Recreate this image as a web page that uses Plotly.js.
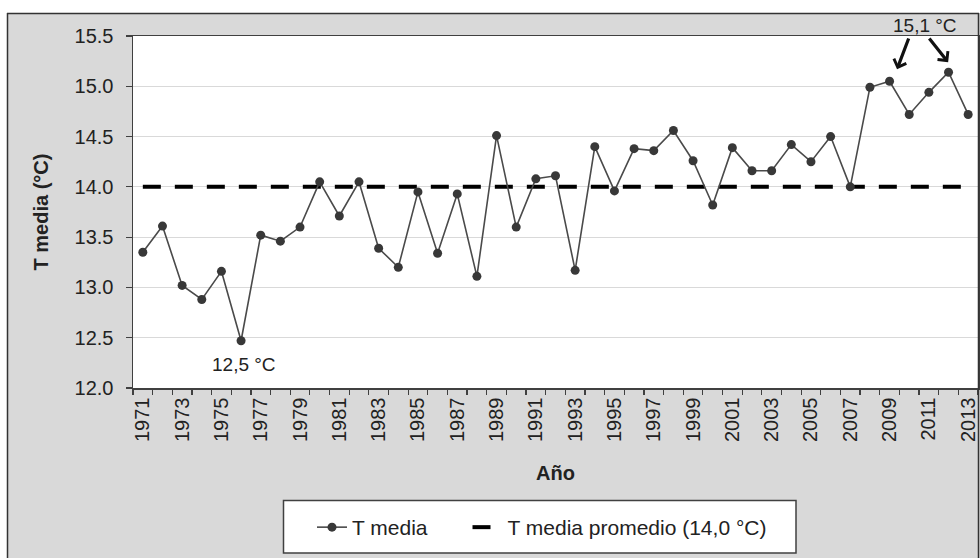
<!DOCTYPE html>
<html>
<head>
<meta charset="utf-8">
<script src="https://cdn.plot.ly/plotly-3.0.1.min.js"></script>
<style>html,body{margin:0;padding:0;background:#fff;}#chart{width:980px;height:558px;}</style>
</head>
<body>
<div id="chart"></div>
<script>
const years = [1971,1972,1973,1974,1975,1976,1977,1978,1979,1980,1981,1982,1983,1984,1985,1986,1987,1988,1989,1990,1991,1992,1993,1994,1995,1996,1997,1998,1999,2000,2001,2002,2003,2004,2005,2006,2007,2008,2009,2010,2011,2012,2013];
const tMedia = [13.35,13.61,13.02,12.88,13.16,12.47,13.52,13.46,13.60,14.05,13.71,14.05,13.39,13.20,13.95,13.34,13.93,13.11,14.51,13.60,14.08,14.11,13.17,14.40,13.96,14.38,14.36,14.56,14.26,13.82,14.39,14.16,14.16,14.42,14.25,14.50,14.00,14.99,15.05,14.72,14.94,15.14,14.72];
const avgYears = [1971, 2013];
const avgValues = [14.0, 14.0];
const tickYears = [1971,1973,1975,1977,1979,1981,1983,1985,1987,1989,1991,1993,1995,1997,1999,2001,2003,2005,2007,2009,2011,2013];
const tickLabels = ['1971','1973','1975','1977','1979','1981','1983','1985','1987','1989','1991','1993','1995','1997','1999','2001','2003','2005','2007','2009','2011','2013'];
const yTicks = [12.0,12.5,13.0,13.5,14.0,14.5,15.0,15.5];
const seriesNames = ['T media', 'T media promedio (14,0 °C)'];
const labelMin = '12,5 °C';
const labelMax = '15,1 °C';

const FONT = 'Liberation Sans, Arial, sans-serif';
const W = 980, H = 558, ML = 133, MR = 2, MT = 36, MB = 170;
const PW = W - ML - MR, PH = H - MT - MB;
const px = p => (p - ML) / PW;
const py = q => (H - MB - q) / PH;
const NBSP = '\u00A0';

const traces = [
  {
    x: avgYears, y: avgValues, name: seriesNames[1], type: 'scatter', mode: 'lines',
    line: {color: '#000000', width: 4, dash: '18px,14px'}, legendrank: 2, hoverinfo: 'skip'
  },
  {
    x: years, y: tMedia, name: seriesNames[0] + NBSP.repeat(6), type: 'scatter', mode: 'lines+markers',
    line: {color: '#4a4a4a', width: 1.6},
    marker: {color: '#383838', size: 9}, legendrank: 1
  }
];

const layout = {
  width: W, height: H,
  margin: {l: ML, r: MR, t: MT, b: MB, pad: 0},
  paper_bgcolor: '#d9d9d9',
  plot_bgcolor: '#ffffff',
  font: {family: FONT, color: '#222222'},
  showlegend: true,
  xaxis: {
    range: [1970.5, 2013.5],
    tickmode: 'array', tickvals: tickYears, ticktext: tickLabels,
    tickangle: -90, ticks: '', tickfont: {size: 20, color: '#222222'},
    showgrid: false, zeroline: false,
    showline: true, linecolor: '#404040', linewidth: 1.5, mirror: true,
    minor: {tick0: 1970.5, dtick: 1, ticks: 'outside', ticklen: 5, tickwidth: 1.2, tickcolor: '#404040', showgrid: false},
    title: {text: '<b>Año</b>', font: {size: 20, color: '#222222'}, standoff: 25},
    automargin: false
  },
  yaxis: {
    range: [12, 15.5],
    tickmode: 'array', tickvals: yTicks, tickformat: '.1f',
    ticks: 'outside', ticklen: 6, tickwidth: 1.2, tickcolor: '#404040',
    tickfont: {size: 20, color: '#222222'}, ticklabelstandoff: 8,
    showgrid: true, gridcolor: '#d9d9d9', gridwidth: 1.2, zeroline: false,
    showline: true, linecolor: '#404040', linewidth: 1.5, mirror: true,
    title: {text: '<b>T media (°C)</b>', font: {size: 20, color: '#222222'}, standoff: 20},
    automargin: false
  },
  legend: {
    orientation: 'h', x: px(312), xanchor: 'left', y: py(507), yanchor: 'top',
    bgcolor: 'rgba(0,0,0,0)', borderwidth: 0,
    font: {size: 21, color: '#222222', family: FONT}
  },
  annotations: [
    {x: 1976.15, y: 12.23, xref: 'x', yref: 'y', text: labelMin, showarrow: false, font: {size: 19, color: '#222222'}},
    {x: 2010.8, y: py(25), xref: 'x', yref: 'paper', xanchor: 'center', yanchor: 'middle', text: labelMax, showarrow: false, font: {size: 19, color: '#222222'}},
    {x: 2009.38, y: 15.17, ax: 2010.0, ay: 15.49, xref: 'x', yref: 'y', axref: 'x', ayref: 'y', text: '', showarrow: true, arrowhead: 4, arrowsize: 0.8, arrowwidth: 3.2, arrowcolor: '#111111'},
    {x: 2011.98, y: 15.24, ax: 2010.96, ay: 15.49, xref: 'x', yref: 'y', axref: 'x', ayref: 'y', text: '', showarrow: true, arrowhead: 4, arrowsize: 0.8, arrowwidth: 3.2, arrowcolor: '#111111'}
  ],
  shapes: [
    {type: 'rect', xref: 'paper', yref: 'paper', x0: px(-2), x1: px(7), y0: py(H + 2), y1: py(-2), fillcolor: '#ffffff', line: {width: 0}, layer: 'above'},
    {type: 'rect', xref: 'paper', yref: 'paper', x0: px(-2), x1: px(W + 2), y0: py(13), y1: py(-2), fillcolor: '#ffffff', line: {width: 0}, layer: 'above'},
    {type: 'line', xref: 'paper', yref: 'paper', x0: px(7.5), x1: px(7.5), y0: py(13), y1: py(H + 2), line: {color: '#333333', width: 1.5}},
    {type: 'line', xref: 'paper', yref: 'paper', x0: px(7), x1: px(979), y0: py(13.5), y1: py(13.5), line: {color: '#333333', width: 1.5}},
    {type: 'line', xref: 'paper', yref: 'paper', x0: px(978.5), x1: px(978.5), y0: py(13), y1: py(H + 2), line: {color: '#333333', width: 1.5}},
    {type: 'rect', xref: 'paper', yref: 'paper', x0: px(283.5), x1: px(796), y0: py(553), y1: py(500.5), fillcolor: '#ffffff', line: {color: '#404040', width: 1.5}, layer: 'above'}
  ]
};

Plotly.newPlot('chart', traces, layout, {staticPlot: true, displayModeBar: false});
</script>
</body>
</html>
